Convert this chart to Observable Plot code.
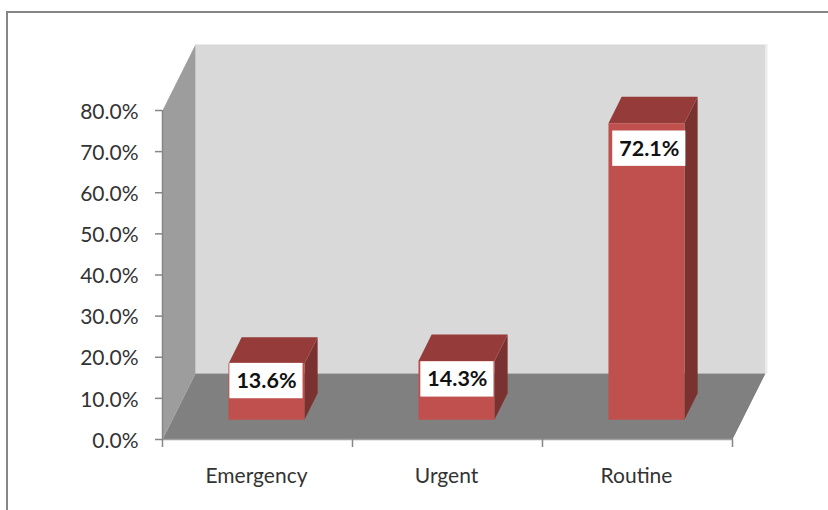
<!DOCTYPE html>
<html>
<head>
<meta charset="utf-8">
<script src="https://cdn.jsdelivr.net/npm/d3@7"></script>
<script src="https://cdn.jsdelivr.net/npm/@observablehq/plot@0.6"></script>
<style>
  html, body { margin: 0; padding: 0; background: #fff; overflow: hidden; }
  #frame { position: absolute; left: 6px; top: 11px; width: 840px; height: 520px; border-left: 2px solid #868686; border-top: 2px solid #868686; box-sizing: border-box; }
  #chart { position: absolute; left: 0; top: 0; }
  svg { font-family: Lato, sans-serif; }
</style>
</head>
<body>
<div id="frame"></div>
<div id="chart"></div>
<script>
const categories = ["Emergency", "Urgent", "Routine"];
const values = [13.6, 14.3, 72.1];
const yTicks = [0, 10, 20, 30, 40, 50, 60, 70, 80];
const slotEdges = [0, 1, 2, 3];

// Oblique projection: how far the full chart depth shifts a point, in scale units
const depthX = 33 / 190;
const depthY = 66 / 4.1125;
const nearD = 0.3, farD = 0.7, barHalf = 0.2;
const P = (cx, v, d) => ({x: cx + d * depthX, y: v + d * depthY});
const face = (id, pts) => pts.map(([c, v, d]) => ({id, ...P(c, v, d)}));

const backWall = face("w", [[0,0,1],[3,0,1],[3,80,1],[0,80,1]]);
const sideWall = face("s", [[0,0,0],[0,0,1],[0,80,1],[0,80,0]]);
const floor = face("f", [[0,0,0],[3,0,0],[3,0,1],[0,0,1]]);

const bars = values.map((v, i) => ({i, v, c: i + 0.495}));
const fronts = bars.flatMap(b => face(b.i, [[b.c-barHalf,0,nearD],[b.c+barHalf,0,nearD],[b.c+barHalf,b.v,nearD],[b.c-barHalf,b.v,nearD]]));
const tops = bars.flatMap(b => face(b.i, [[b.c-barHalf,b.v,nearD],[b.c+barHalf,b.v,nearD],[b.c+barHalf,b.v,farD],[b.c-barHalf,b.v,farD]]));
const sides = bars.flatMap(b => face(b.i, [[b.c+barHalf,0,nearD],[b.c+barHalf,0,farD],[b.c+barHalf,b.v,farD],[b.c+barHalf,b.v,nearD]]));

// Data label boxes, in scale units around each label's anchor
const labelShiftX = [0, 0.005, 0.015];
const labelRise = [-4.2, -4.5, -6.2];
const labels = bars.map((b, i) => {
  const p = P(b.c + labelShiftX[i], b.v + labelRise[i], nearD);
  return {text: b.v.toFixed(1) + "%", x: p.x, y: p.y};
});
const boxW = 0.385, boxH = 4.3;

const poly = (data, fill) => Plot.line(data, {x: "x", y: "y", z: "id", fill, stroke: "none"});

const chart = Plot.plot({
  width: 828,
  height: 510,
  marginLeft: 162,
  marginRight: 96,
  marginTop: 110,
  marginBottom: 71,
  style: {background: "transparent", overflow: "visible"},
  x: {domain: [0, 3]},
  y: {domain: [0, 80]},
  marks: [
    poly(backWall, "#d9d9d9"),
    Plot.ruleX([3 + depthX], {y1: depthY, y2: 80 + depthY, stroke: "#ececec", strokeWidth: 2, dx: 1}),
    poly(sideWall, "#9d9d9d"),
    poly(floor, "#808080"),
    poly(sides, "#7a3230"),
    poly(tops, "#953b39"),
    poly(fronts, "#c0504d"),
    Plot.rect(labels, {x1: d => d.x - boxW / 2, x2: d => d.x + boxW / 2, y1: d => d.y - boxH, y2: d => d.y + boxH, fill: "white"}),
    Plot.text(labels, {x: "x", y: "y", text: "text", fontSize: 21.5, fontWeight: 700, fill: "#111"}),
    Plot.ruleX([0], {y1: 0, y2: 80, stroke: "#868686", strokeWidth: 1.5}),
    Plot.ruleY([0], {x1: 0, x2: 3, stroke: "#a0a0a0", strokeWidth: 1.5}),
    Plot.axisY({ticks: yTicks, tickFormat: () => "", tickSize: 7, label: null, stroke: "#868686", strokeWidth: 1.5}),
    Plot.axisY({ticks: yTicks, tickFormat: d => d.toFixed(1) + "%", tickSize: 0, tickPadding: 24, dy: 1.5, label: null, fontSize: 21, fill: "#333"}),
    Plot.axisX({ticks: slotEdges, tickFormat: () => "", tickSize: 8, label: null, stroke: "#868686", strokeWidth: 1.5}),
    Plot.axisX({ticks: categories.map((_, i) => i + 0.5), tickFormat: d => categories[Math.floor(d)], tickSize: 0, tickPadding: 29, dx: -1, label: null, fontSize: 21, fill: "#333"})
  ]
});
document.getElementById("chart").appendChild(chart);
</script>
</body>
</html>
